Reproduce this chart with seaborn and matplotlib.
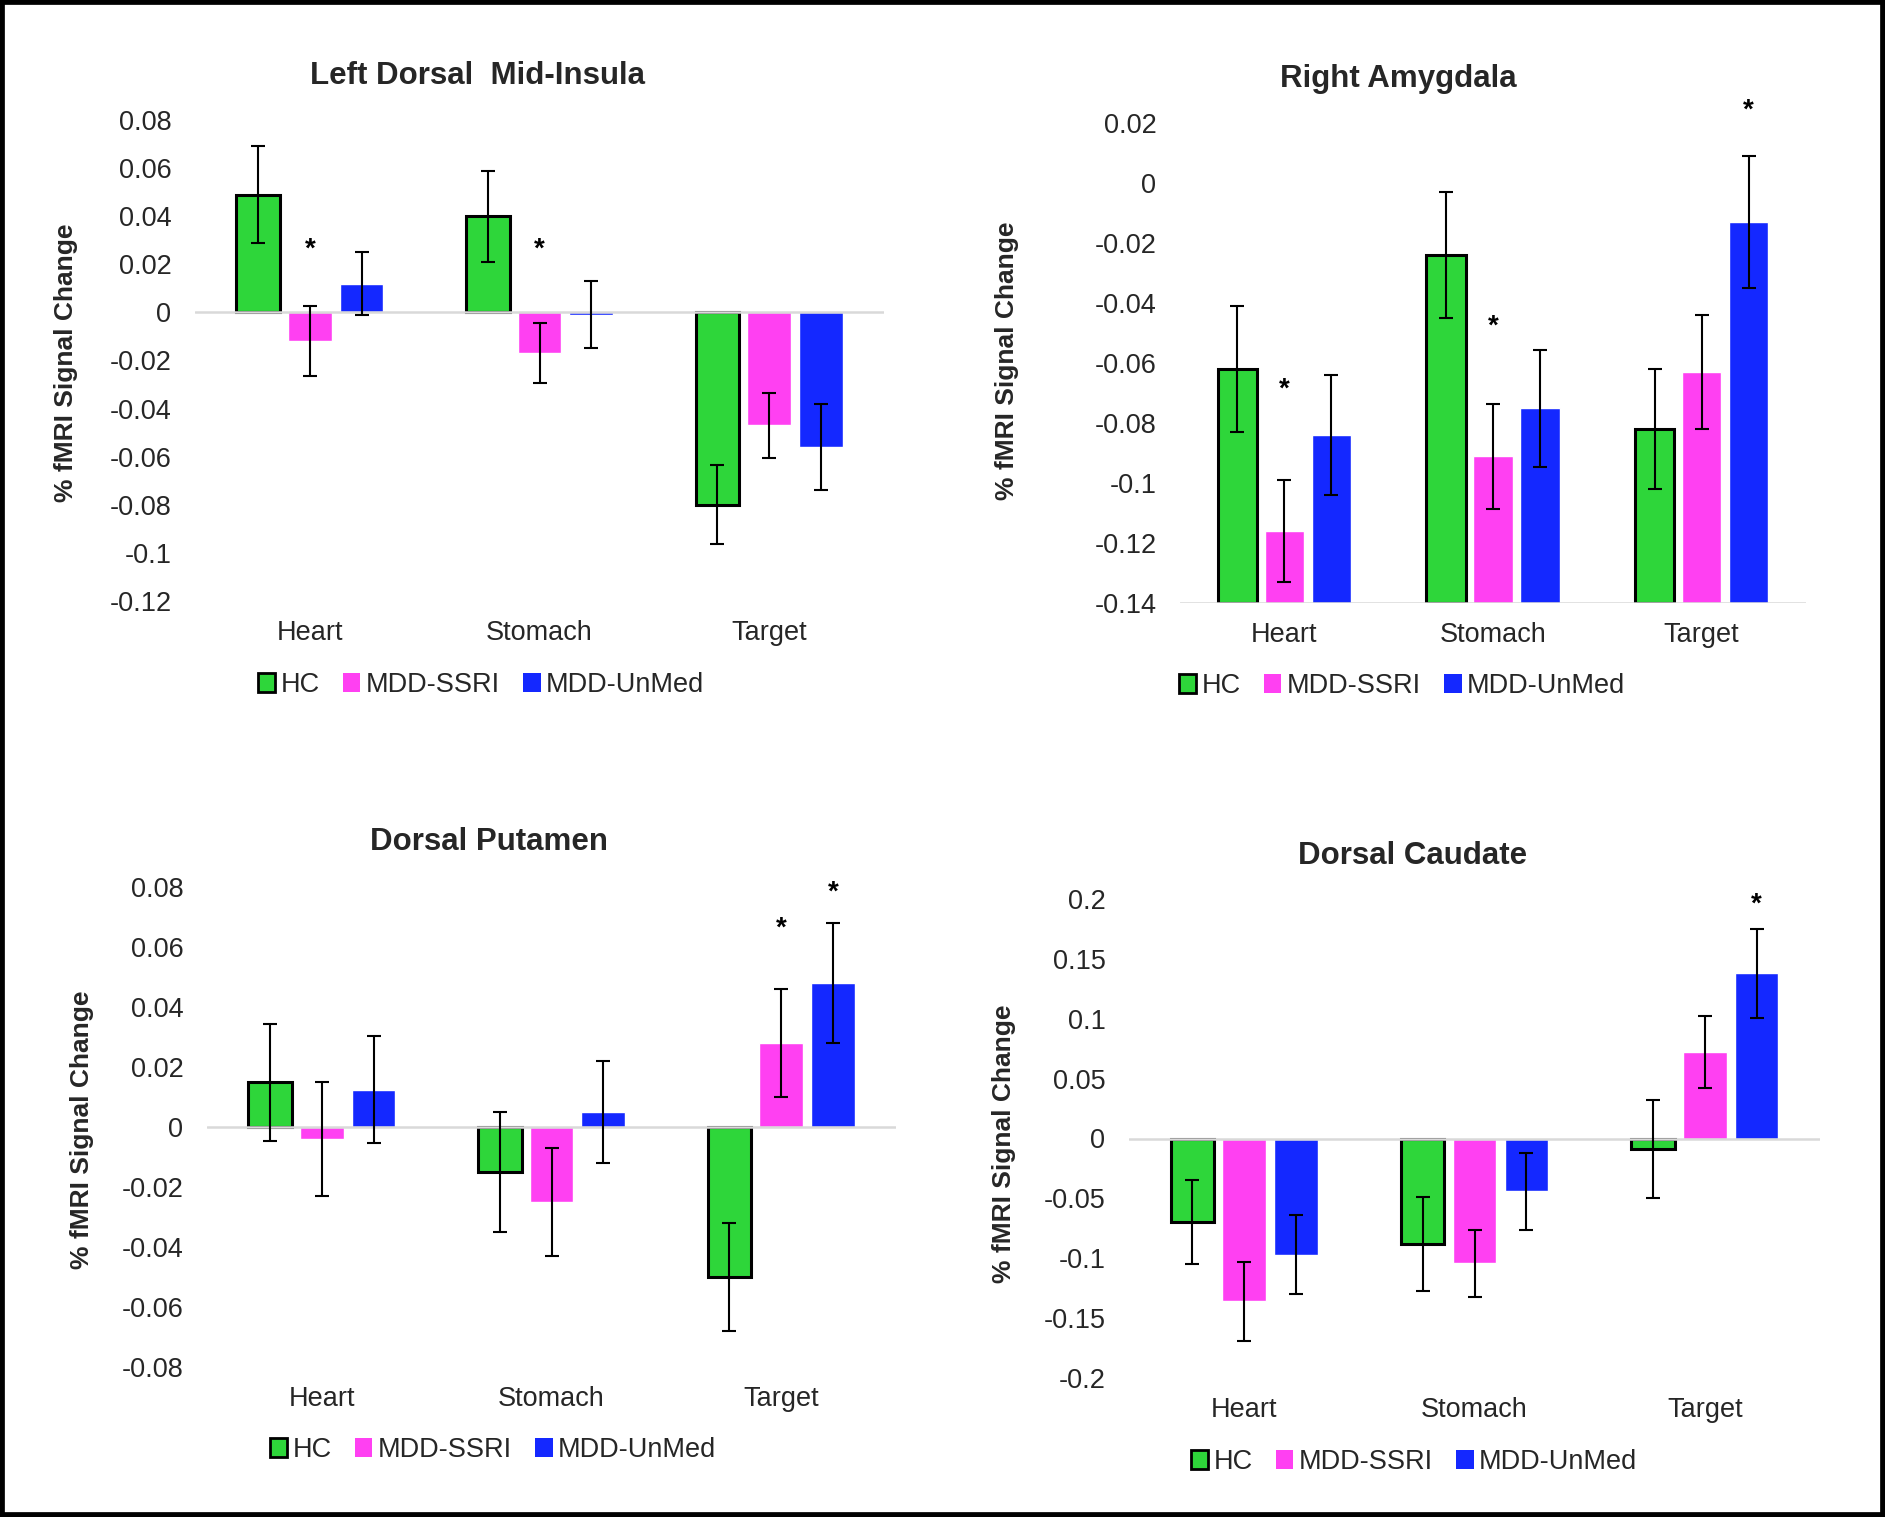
import matplotlib
matplotlib.use("Agg")
import matplotlib.pyplot as plt
from matplotlib.patches import Patch, Rectangle
import seaborn as sns
import pandas as pd

# categories and groups shared by all four panels
categories = ["Heart", "Stomach", "Target"]
groups = ["HC", "MDD-SSRI", "MDD-UnMed"]
colors = ["#2ED63A", "#FF40F2", "#1428FF"]

# Left Dorsal Mid-Insula
insula_hc = [0.049, 0.040, -0.080]
insula_ssri = [-0.012, -0.017, -0.047]
insula_unmed = [0.012, -0.001, -0.056]
insula_hc_err = [0.020, 0.019, 0.0165]
insula_ssri_err = [0.0145, 0.0125, 0.0135]
insula_unmed_err = [0.013, 0.014, 0.018]
insula_ticks = ["-0.12", "-0.1", "-0.08", "-0.06", "-0.04", "-0.02", "0", "0.02", "0.04", "0.06", "0.08"]
insula_stars = [("MDD-SSRI", "Heart", 0.026), ("MDD-SSRI", "Stomach", 0.026)]

# Right Amygdala
amyg_hc = [-0.062, -0.024, -0.082]
amyg_ssri = [-0.116, -0.091, -0.063]
amyg_unmed = [-0.084, -0.075, -0.013]
amyg_hc_err = [0.021, 0.021, 0.020]
amyg_ssri_err = [0.017, 0.0175, 0.019]
amyg_unmed_err = [0.020, 0.0195, 0.022]
amyg_ticks = ["-0.14", "-0.12", "-0.1", "-0.08", "-0.06", "-0.04", "-0.02", "0", "0.02"]
amyg_stars = [("MDD-SSRI", "Heart", -0.069), ("MDD-SSRI", "Stomach", -0.048), ("MDD-UnMed", "Target", 0.024)]

# Dorsal Putamen
put_hc = [0.015, -0.015, -0.050]
put_ssri = [-0.004, -0.025, 0.028]
put_unmed = [0.0125, 0.005, 0.048]
put_hc_err = [0.0195, 0.020, 0.018]
put_ssri_err = [0.019, 0.018, 0.018]
put_unmed_err = [0.0178, 0.017, 0.020]
put_ticks = ["-0.08", "-0.06", "-0.04", "-0.02", "0", "0.02", "0.04", "0.06", "0.08"]
put_stars = [("MDD-SSRI", "Target", 0.066), ("MDD-UnMed", "Target", 0.078)]

# Dorsal Caudate
caud_hc = [-0.070, -0.088, -0.009]
caud_ssri = [-0.136, -0.104, 0.072]
caud_unmed = [-0.097, -0.044, 0.138]
caud_hc_err = [0.035, 0.039, 0.041]
caud_ssri_err = [0.033, 0.028, 0.030]
caud_unmed_err = [0.033, 0.032, 0.037]
caud_ticks = ["-0.2", "-0.15", "-0.1", "-0.05", "0", "0.05", "0.1", "0.15", "0.2"]
caud_stars = [("MDD-UnMed", "Target", 0.195)]

sns.set_style("white")
plt.rcParams["font.family"] = ["Liberation Sans", "DejaVu Sans"]

W, H = 1885, 1517
fig = plt.figure(figsize=(W / 100, H / 100), dpi=100)


def px_axes(left, right, top, bottom):
    return fig.add_axes([left / W, 1 - bottom / H, (right - left) / W, (bottom - top) / H])


def panel(box, title, title_xy, ylabel_xy, legend_xy, vals, errs, ticks, stars, base=0.0):
    ax = px_axes(*box)
    df = pd.DataFrame({
        "cat": categories * 3,
        "group": [g for g in groups for _ in categories],
        "value": [v for series in vals for v in series],
    })
    sns.barplot(data=df, x="cat", y="value", hue="group", order=categories, hue_order=groups,
                palette=colors, saturation=1, width=0.675, gap=0.16, errorbar=None,
                legend=False, ax=ax)

    ax.set_xlim(-0.5, len(categories) - 0.5)
    tick_vals = [float(t) for t in ticks]
    ax.set_ylim(tick_vals[0], tick_vals[-1])
    ax.set_yticks(tick_vals)
    ax.set_yticklabels(ticks)

    bar_conts = list(ax.containers)
    for i, cont in enumerate(bar_conts):
        bars = sorted(cont.patches, key=lambda p: p.get_x())
        xs = []
        for p in bars:
            v = p.get_y() + p.get_height()
            if base != 0.0:
                p.set_y(base)
                p.set_height(v - base)
            if i == 0:
                p.set_edgecolor("black")
                p.set_linewidth(2.2)
            p.set_zorder(2)
            xs.append(p.get_x() + p.get_width() / 2)
        ax.errorbar(xs, vals[i], yerr=errs[i], fmt="none", ecolor="black",
                    elinewidth=1.5, capsize=5, capthick=1.5, zorder=4)
        for g, c, y in stars:
            if g == groups[i]:
                ax.text(xs[categories.index(c)], y, "*", ha="center", va="center",
                        fontsize=20, fontweight="bold", color="black")

    ax.axhline(base, color="#D9D9D9", lw=1.8, zorder=3)
    ax.set_xlabel("")
    ax.set_ylabel("")
    sns.despine(ax=ax, left=True, bottom=True)
    ax.tick_params(axis="y", length=0, pad=17, labelsize=19.5)
    ax.tick_params(axis="x", length=0, pad=14, labelsize=19.5)

    fig.text(title_xy[0] / W, 1 - title_xy[1] / H, title, ha="center", va="center",
             fontsize=22.5, fontweight="bold")
    fig.text(ylabel_xy[0] / W, 1 - ylabel_xy[1] / H, "% fMRI Signal Change", ha="center",
             va="center", rotation=90, fontsize=19, fontweight="bold")

    handles = [Patch(facecolor=colors[0], edgecolor="black", linewidth=2),
               Patch(facecolor=colors[1], edgecolor="none"),
               Patch(facecolor=colors[2], edgecolor="none")]
    fig.legend(handles, groups, loc="center", bbox_to_anchor=(legend_xy[0] / W, 1 - legend_xy[1] / H),
               ncol=3, frameon=False, fontsize=19.5, handlelength=0.65, handleheight=0.65,
               handletextpad=0.2, columnspacing=0.85)
    return ax


panel((195, 884, 120, 601), "Left Dorsal  Mid-Insula", (477, 76), (66, 363), (481, 685),
      [insula_hc, insula_ssri, insula_unmed], [insula_hc_err, insula_ssri_err, insula_unmed_err],
      insula_ticks, insula_stars)
panel((1180, 1806, 123, 603), "Right Amygdala", (1398, 79), (1007, 361), (1402, 686),
      [amyg_hc, amyg_ssri, amyg_unmed], [amyg_hc_err, amyg_ssri_err, amyg_unmed_err],
      amyg_ticks, amyg_stars, base=-0.14)
panel((207, 896, 887, 1367), "Dorsal Putamen", (489, 842), (82, 1130), (493, 1450),
      [put_hc, put_ssri, put_unmed], [put_hc_err, put_ssri_err, put_unmed_err],
      put_ticks, put_stars)
panel((1129, 1820, 899, 1378), "Dorsal Caudate", (1413, 856), (1004, 1144), (1414, 1462),
      [caud_hc, caud_ssri, caud_unmed], [caud_hc_err, caud_ssri_err, caud_unmed_err],
      caud_ticks, caud_stars)

# black frame around the whole figure
fig.add_artist(Rectangle((0, 0), 1, 1, transform=fig.transFigure, fill=False,
                         edgecolor="black", linewidth=7))

fig.savefig("out.png", dpi=100, facecolor="white")
